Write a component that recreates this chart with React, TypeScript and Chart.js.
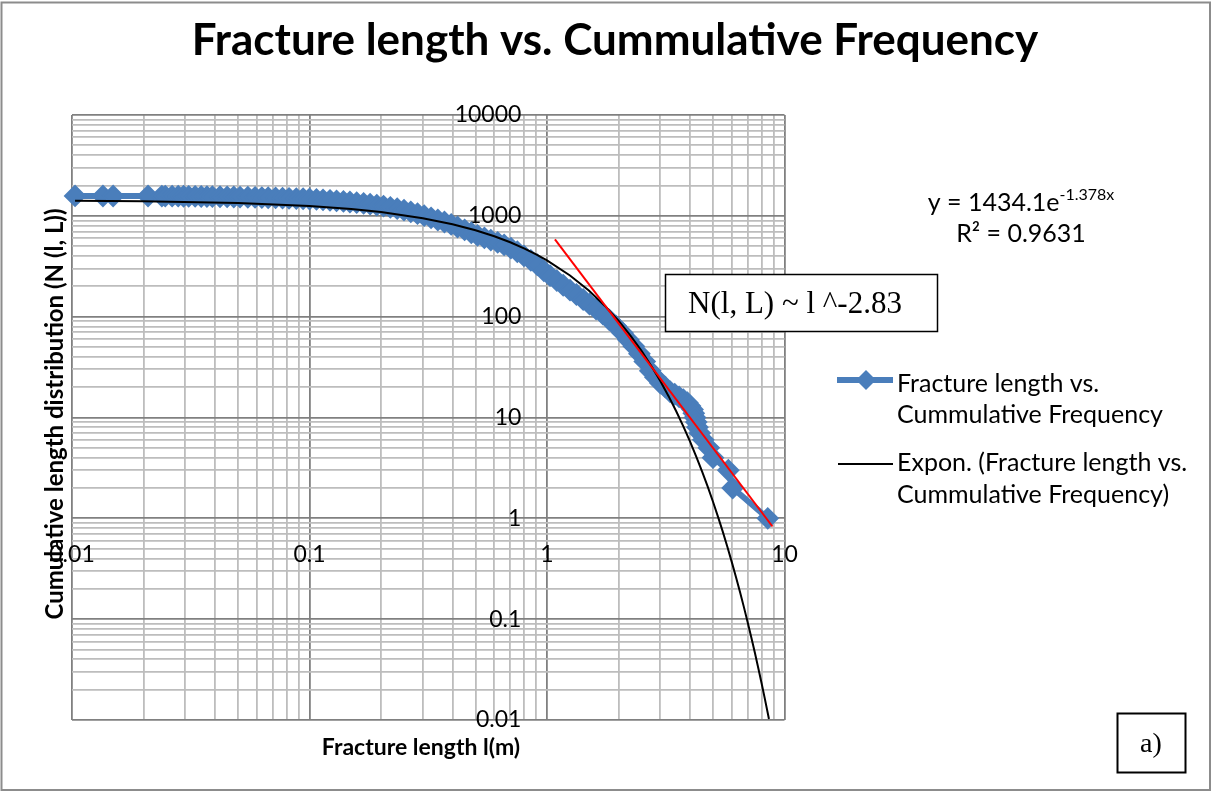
import { useEffect, useRef } from 'react';
import { Chart, registerables } from 'chart.js';

Chart.register(...registerables);

// ---------- texts ----------
const CHART_TITLE = 'Fracture length vs. Cummulative Frequency';
const X_AXIS_TITLE = 'Fracture length l(m)';
const Y_AXIS_TITLE = 'Cumulative length distribution (N (l, L))';
const SERIES_NAME = ['Fracture length vs.', 'Cummulative Frequency'];
const TREND_NAME = ['Expon. (Fracture length vs.', 'Cummulative Frequency)'];
const TREND_EQUATION = 'y = 1434.1e';
const TREND_EXPONENT = '-1.378x';
const TREND_R2 = 'R² = 0.9631';
const POWER_LAW_LABEL = 'N(l, L) ~ l ^-2.83';
const PANEL_LABEL = 'a)';

// ---------- data: fracture length (m) vs cumulative count ----------
const LENGTHS = [
  0.0103, 0.0135, 0.0149, 0.0209, 0.0239, 0.0247, 0.0264, 0.028, 0.0295, 0.031,
  0.033, 0.035, 0.037, 0.039, 0.042, 0.045, 0.048, 0.051, 0.055, 0.059,
  0.063, 0.067, 0.072, 0.077, 0.082, 0.088, 0.094, 0.1, 0.107, 0.114,
  0.122, 0.13, 0.139, 0.148, 0.158, 0.169, 0.18, 0.192, 0.205, 0.219,
  0.234, 0.25, 0.267, 0.285, 0.304, 0.325, 0.347, 0.37, 0.395, 0.42,
  0.45, 0.48, 0.51, 0.545, 0.58, 0.62, 0.66, 0.705, 0.75, 0.8,
  0.855, 0.91, 0.97, 1.03, 1.1, 1.17, 1.25, 1.33, 1.42, 1.51,
  1.61, 1.72, 1.83, 1.95, 2.08, 2.2, 2.32, 2.45, 2.58, 2.72,
  2.86, 3.0, 3.15, 3.3, 3.45, 3.6, 3.75, 3.9, 4.0, 4.1,
  4.15, 4.2, 4.25, 4.3, 4.4, 4.55, 4.8, 5.0, 5.8, 6.05,
  8.5,
];
const COUNTS = [
  1575, 1574, 1573, 1572, 1571, 1570, 1568, 1566, 1564, 1562,
  1559, 1556, 1553, 1550, 1546, 1542, 1538, 1534, 1529, 1524,
  1518, 1512, 1505, 1498, 1491, 1483, 1476, 1468, 1455, 1441,
  1425, 1408, 1390, 1371, 1350, 1327, 1304, 1278, 1250, 1215,
  1178, 1138, 1096, 1051, 1004, 955, 910, 868, 822, 775,
  725, 680, 640, 605, 575, 545, 515, 478, 440, 400,
  362, 327, 285, 255, 228, 205, 183, 166, 148, 133,
  119, 106, 93, 81, 69, 59, 51, 43, 36, 29,
  25, 22, 20, 18, 17, 16, 15, 14, 13, 12,
  11, 10, 9, 8, 7, 6, 5, 4, 3, 2,
  1,
];

// exponential trendline (y = 1434.1e^-1.378x)
const TREND_X = [
  0.0103, 0.02, 0.05, 0.1, 0.15, 0.2, 0.3, 0.4, 0.5, 0.6,
  0.7, 0.8, 0.9, 1.0, 1.25, 1.5, 1.75, 2.0, 2.25, 2.5,
  2.75, 3.0, 3.25, 3.5, 3.75, 4.0, 4.25, 4.5, 4.75, 5.0,
  5.25, 5.5, 5.75, 6.0, 6.25, 6.5, 6.75, 7.0, 7.25, 7.5,
  7.75, 8.0, 8.25, 8.5, 8.6,
];
const TREND_Y = [
  1413.9, 1395.1, 1338.6, 1249.5, 1166.3, 1088.6, 948.5, 826.4, 720.1, 627.4,
  546.6, 476.2, 414.9, 361.5, 256.2, 181.5, 128.6, 91.13, 64.57, 45.76,
  32.42, 22.98, 16.28, 11.54, 8.173, 5.793, 4.103, 2.909, 2.06, 1.46,
  1.034, 0.7334, 0.5193, 0.368, 0.2607, 0.1849, 0.1309, 0.09277, 0.06573, 0.04662,
  0.033, 0.02338, 0.01657, 0.01174, 0.01023,
];

// hand-drawn power-law line
const POWER_X = [1.08, 8.9];
const POWER_Y = [585, 0.83];

// axes
const X_DECADES = [0.01, 0.1, 1, 10];
const X_TICK_LABELS = ['0.01', '0.1', '1', '10'];
const Y_DECADES = [0.01, 0.1, 1, 10, 100, 1000, 10000];
const Y_TICK_LABELS = ['0.01', '0.1', '1', '10', '100', '1000', '10000'];
const MINOR_MULTIPLES = [2, 3, 4, 5, 6, 7, 8, 9];

const BLUE = '#4A7EBB';
const MAJOR_GRID = '#808080';
const MINOR_GRID = '#bdbdbd';
const FONT = 'Lato';

function buildLogTicks(decades: number[]) {
  const out: { value: number; major: boolean }[] = [];
  decades.forEach((d, i) => {
    out.push({ value: d, major: true });
    if (i < decades.length - 1) {
      MINOR_MULTIPLES.forEach((m) => out.push({ value: +(d * m).toPrecision(8), major: false }));
    }
  });
  return out;
}

function labelFor(v: number, decades: number[], labels: string[]) {
  const i = decades.findIndex((d) => Math.abs(d - v) < d * 1e-6);
  return i >= 0 ? labels[i] : '';
}

function isDecade(v: number) {
  const l = Math.log10(v);
  return Math.abs(l - Math.round(l)) < 1e-6;
}

const gridColor = (c: any) => (c.tick && isDecade(c.tick.value) ? MAJOR_GRID : MINOR_GRID);

const decorPlugin = {
  id: 'decor',
  beforeDraw(chart: any) {
    const { ctx, width, height } = chart;
    ctx.save();
    ctx.fillStyle = '#ffffff';
    ctx.fillRect(0, 0, width, height);
    ctx.strokeStyle = '#8c8c8c';
    ctx.lineWidth = 2;
    ctx.strokeRect(1.5, 2.5, width - 3.5, height - 4.5);
    ctx.restore();
  },
  afterDraw(chart: any) {
    const { ctx } = chart;
    ctx.save();
    ctx.fillStyle = '#000';
    ctx.textBaseline = 'alphabetic';

    // title
    ctx.font = `bold 44px ${FONT}`;
    ctx.textAlign = 'center';
    ctx.fillText(CHART_TITLE, 615, 55, 860);

    // x axis title
    ctx.font = `bold 23px ${FONT}`;
    ctx.fillText(X_AXIS_TITLE, 421, 755, 206);

    // y axis title
    ctx.save();
    ctx.translate(55, 414);
    ctx.rotate(-Math.PI / 2);
    ctx.textBaseline = 'middle';
    ctx.font = `bold 24px ${FONT}`;
    ctx.fillText(Y_AXIS_TITLE, 0, 0, 438);
    ctx.restore();

    // trendline equation
    ctx.textAlign = 'left';
    ctx.font = `25px ${FONT}`;
    const mainW = ctx.measureText(TREND_EQUATION).width;
    ctx.font = `16px ${FONT}`;
    const supW = ctx.measureText(TREND_EXPONENT).width;
    const sx = 1021 - (mainW + supW) / 2;
    ctx.font = `25px ${FONT}`;
    ctx.fillText(TREND_EQUATION, sx, 211);
    ctx.font = `16px ${FONT}`;
    ctx.fillText(TREND_EXPONENT, sx + mainW, 200);
    ctx.font = `25px ${FONT}`;
    ctx.textAlign = 'center';
    ctx.fillText(TREND_R2, 1021, 242);

    // legend
    ctx.strokeStyle = BLUE;
    ctx.lineWidth = 6;
    ctx.beginPath();
    ctx.moveTo(837, 380);
    ctx.lineTo(893, 380);
    ctx.stroke();
    ctx.fillStyle = BLUE;
    ctx.beginPath();
    ctx.moveTo(866 - 10, 380);
    ctx.lineTo(866, 380 - 10);
    ctx.lineTo(866 + 10, 380);
    ctx.lineTo(866, 380 + 10);
    ctx.closePath();
    ctx.fill();
    ctx.strokeStyle = '#000';
    ctx.lineWidth = 2;
    ctx.beginPath();
    ctx.moveTo(838, 464);
    ctx.lineTo(893, 464);
    ctx.stroke();
    ctx.fillStyle = '#000';
    ctx.textAlign = 'left';
    ctx.font = `25px ${FONT}`;
    ctx.fillText(SERIES_NAME[0], 897, 392);
    ctx.fillText(SERIES_NAME[1], 897, 423);
    ctx.fillText(TREND_NAME[0], 897, 471);
    ctx.fillText(TREND_NAME[1], 897, 503);

    // power-law annotation box
    ctx.fillStyle = '#fff';
    ctx.fillRect(665, 274, 273, 58);
    ctx.strokeStyle = '#000';
    ctx.lineWidth = 1.5;
    ctx.strokeRect(665.5, 274.5, 272, 57);
    ctx.fillStyle = '#000';
    ctx.font = '31px "Liberation Serif"';
    ctx.textAlign = 'center';
    ctx.fillText(POWER_LAW_LABEL, 795, 313);

    // panel label box
    ctx.lineWidth = 2;
    ctx.strokeRect(1117.5, 713.5, 68, 59);
    ctx.font = '28px "Liberation Serif"';
    ctx.fillText(PANEL_LABEL, 1151, 752);

    ctx.restore();
  },
};

export default function App() {
  const ref = useRef<HTMLCanvasElement>(null);

  useEffect(() => {
    const canvas = ref.current;
    if (!canvas) return;
    const chart = new Chart(canvas, {
      type: 'line',
      data: {
        datasets: [
          {
            label: 'N(l, L) ~ l ^-2.83',
            data: POWER_X.map((x, i) => ({ x, y: POWER_Y[i] })),
            borderColor: '#ff0000',
            borderWidth: 2,
            pointRadius: 0,
            fill: false,
            order: 1,
          },
          {
            label: TREND_NAME.join(' '),
            data: TREND_X.map((x, i) => ({ x, y: TREND_Y[i] })),
            borderColor: '#000000',
            borderWidth: 2,
            pointRadius: 0,
            fill: false,
            order: 2,
          },
          {
            label: SERIES_NAME.join(' '),
            data: LENGTHS.map((x, i) => ({ x, y: COUNTS[i] })),
            borderColor: BLUE,
            backgroundColor: BLUE,
            borderWidth: 6,
            pointStyle: 'rectRot',
            pointRadius: 10,
            pointBorderWidth: 2,
            pointBackgroundColor: BLUE,
            pointBorderColor: BLUE,
            fill: false,
            clip: false,
            order: 3,
          },
        ],
      },
      options: {
        responsive: false,
        animation: false,
        events: [],
        layout: { padding: { left: 72, top: 115, right: 427.5, bottom: 72 } },
        plugins: {
          legend: { display: false },
          title: { display: false },
          tooltip: { enabled: false },
        },
        scales: {
          x: {
            type: 'logarithmic',
            axis: 'x',
            position: { y: 1 },
            min: 0.01,
            max: 10,
            afterBuildTicks: (s: any) => {
              s.ticks = buildLogTicks(X_DECADES);
            },
            ticks: {
              autoSkip: false,
              maxRotation: 0,
              minRotation: 0,
              padding: 22,
              color: '#000',
              font: { family: FONT, size: 23 },
              callback: (v: any) => labelFor(Number(v), X_DECADES, X_TICK_LABELS),
            },
            grid: { drawTicks: false, color: gridColor, lineWidth: 1.8 },
            border: { display: false },
          },
          y: {
            type: 'logarithmic',
            axis: 'y',
            position: { x: 0.78 },
            min: 0.01,
            max: 10000,
            afterBuildTicks: (s: any) => {
              s.ticks = buildLogTicks(Y_DECADES);
            },
            ticks: {
              autoSkip: false,
              padding: 0,
              color: '#000',
              font: { family: FONT, size: 23 },
              callback: (v: any) => labelFor(Number(v), Y_DECADES, Y_TICK_LABELS),
            },
            grid: { drawTicks: false, color: gridColor, lineWidth: 1.8 },
            border: { display: false },
          },
        },
      } as any,
      plugins: [decorPlugin],
    });
    return () => chart.destroy();
  }, []);

  return (
    <div style={{ position: 'fixed', left: 0, top: 0, width: 1212, height: 792, background: '#fff' }}>
      <canvas ref={ref} width={1212} height={792} style={{ display: 'block', width: 1212, height: 792 }} />
    </div>
  );
}
